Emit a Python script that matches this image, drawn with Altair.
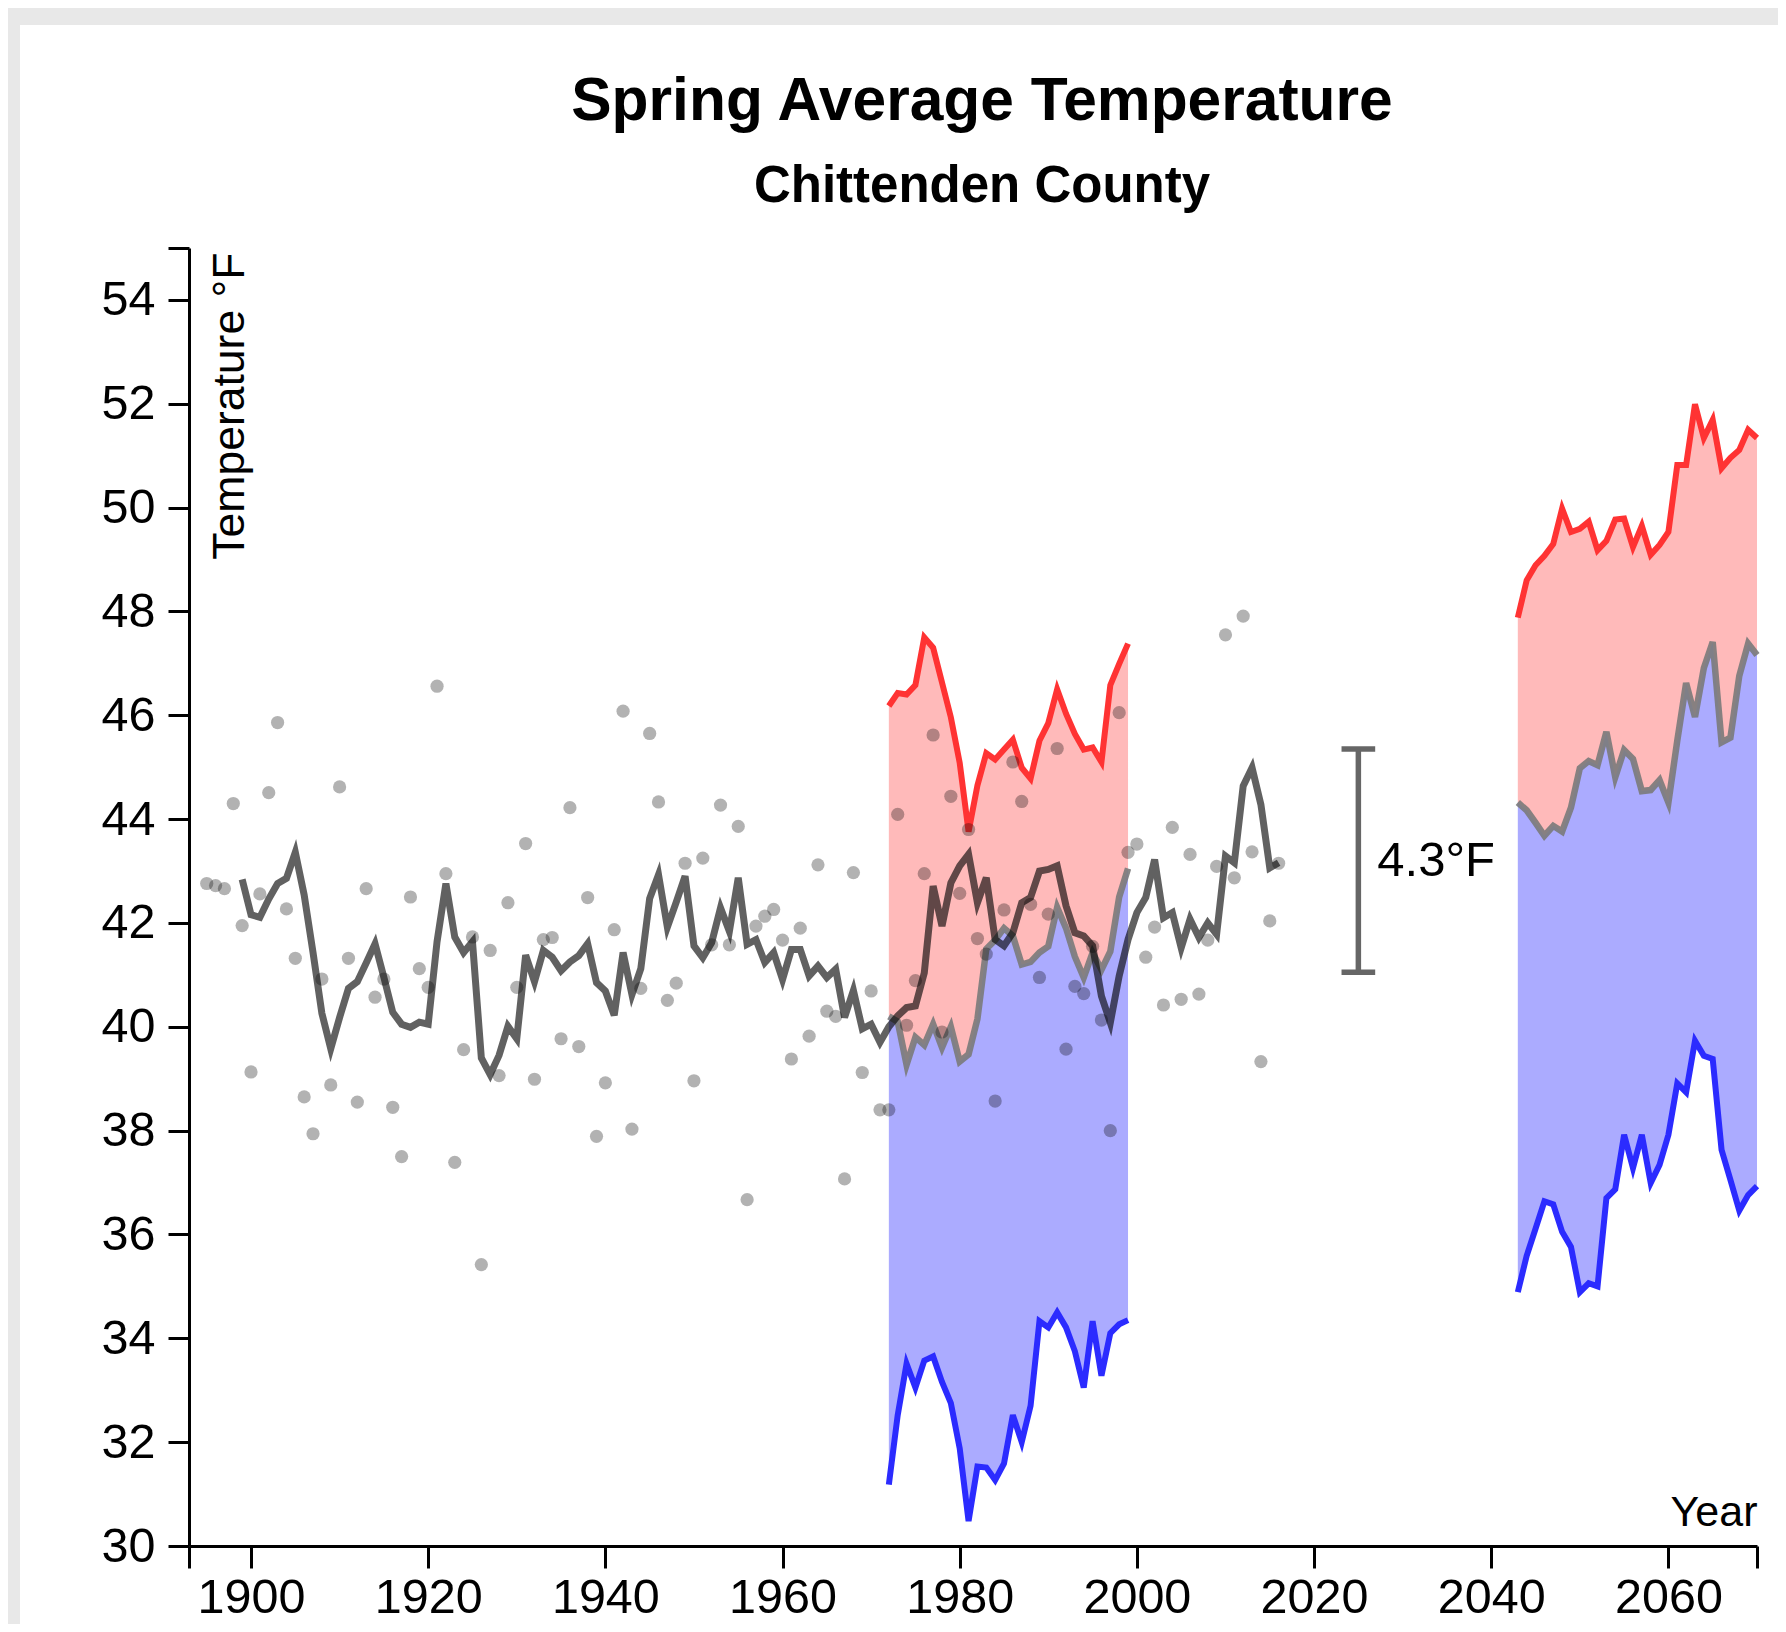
import altair as alt
import pandas as pd

FONT = "Liberation Sans, Arial, Helvetica, sans-serif"

# ---- observed spring average temperature (dots) ----
HIST_YEARS = list(range(1895, 2017))
HIST_TEMPS = [
    42.76, 42.72, 42.66, 44.30, 41.95,                                       # 1895-1899
    39.13, 42.56, 44.51, 45.86, 42.27, 41.32, 38.65, 37.94, 40.92, 38.88,   # 1900s
    44.62, 41.32, 38.55, 42.66, 40.57, 40.92, 38.45, 37.50, 42.50, 41.12,   # 1910s
    40.76, 46.56, 42.95, 37.39, 39.56, 41.73, 35.42, 41.47, 39.06, 42.39,   # 1920s
    40.76, 43.53, 38.99, 41.68, 41.72, 39.77, 44.22, 39.62, 42.49, 37.89,   # 1930s
    38.92, 41.87, 46.08, 38.03, 40.74, 45.65, 44.33, 40.51, 40.84, 43.15,   # 1940s
    38.96, 43.25, 41.58, 44.27, 41.58, 43.86, 36.67, 41.94, 42.13, 42.26,   # 1950s
    41.67, 39.38, 41.90, 39.82, 43.12, 40.30, 40.20, 37.07, 42.97, 39.12,   # 1960s
    40.69, 38.40, 38.40, 44.09, 40.03, 40.89, 42.95, 45.62, 39.90, 44.44,   # 1970s
    42.57, 43.80, 41.70, 41.40, 38.57, 42.25, 45.10, 44.34, 42.36, 40.95,   # 1980s
    42.17, 45.36, 39.57, 40.78, 40.64, 41.55, 40.13, 38.00, 46.05, 43.36,   # 1990s
    43.52, 41.34, 41.92, 40.42, 43.84, 40.53, 43.32, 40.63, 41.67, 43.09,   # 2000s
    47.55, 42.87, 47.91, 43.37, 39.33, 42.04, 43.15,                        # 2010-2016
]

# ---- smoothed line ----
SMOOTH_YEARS = list(range(1899, 2017))
SMOOTH_TEMPS = [
    42.84,                                                                   # 1899
    42.16, 42.11, 42.46, 42.76, 42.86, 43.36, 42.54, 41.43, 40.26, 39.58,   # 1900s
    40.18, 40.74, 40.87, 41.23, 41.60, 40.95, 40.28, 40.05, 39.99, 40.09,   # 1910s
    40.05, 41.64, 42.76, 41.73, 41.43, 41.64, 39.40, 39.08, 39.45, 40.01,   # 1920s
    39.77, 41.38, 40.87, 41.47, 41.34, 41.08, 41.25, 41.37, 41.60, 40.85,   # 1930s
    40.69, 40.22, 41.43, 40.62, 41.12, 42.47, 42.93, 41.92, 42.40, 42.90,   # 1940s
    41.56, 41.33, 41.62, 42.29, 41.84, 42.87, 41.59, 41.68, 41.24, 41.43,   # 1950s
    40.91, 41.49, 41.49, 40.98, 41.17, 40.95, 41.11, 40.18, 40.70, 39.96,   # 1960s
    40.05, 39.70, 40.00, 40.21, 40.37, 40.40, 41.04, 42.71, 41.94, 42.77,   # 1970s
    43.10, 43.32, 42.39, 42.87, 41.68, 41.56, 41.81, 42.39, 42.49, 43.00,   # 1980s
    43.03, 43.10, 42.33, 41.81, 41.75, 41.56, 40.59, 40.08, 40.98, 41.68,   # 1990s
    42.20, 42.49, 43.22, 42.10, 42.20, 41.52, 42.07, 41.72, 42.00, 41.78,   # 2000s
    43.29, 43.16, 44.64, 44.99, 44.28, 43.06, 43.16,                        # 2010-2016
]

# ---- modelled ranges: 1972-1999 and 2043-2070 ----
P1_YEARS = list(range(1972, 2000))
P1_HIGH = [46.18, 46.43, 46.40, 46.58, 47.50, 47.30, 46.63, 45.96, 45.08, 43.76,
           44.65, 45.27, 45.15, 45.34, 45.53, 44.99, 44.78, 45.51, 45.85, 46.50,
           46.03, 45.64, 45.34, 45.38, 45.10, 46.58, 46.99, 47.38]
P1_MED = [40.20, 40.10, 39.27, 39.80, 39.65, 40.05, 39.60, 40.00, 39.33, 39.47,
          40.15, 41.50, 41.67, 41.90, 41.75, 41.20, 41.25, 41.43, 41.55, 42.30,
          41.90, 41.35, 40.95, 41.43, 41.10, 41.45, 42.50, 43.05]
P1_LOW = [31.18, 32.52, 33.51, 33.05, 33.57, 33.65, 33.16, 32.75, 31.88, 30.48,
          31.53, 31.51, 31.27, 31.59, 32.52, 32.00, 32.70, 34.33, 34.21, 34.50,
          34.21, 33.75, 33.05, 34.33, 33.28, 34.10, 34.27, 34.35]

P2_YEARS = list(range(2043, 2071))
P2_HIGH = [47.88, 48.60, 48.89, 49.07, 49.30, 49.98, 49.53, 49.59, 49.73, 49.18,
           49.36, 49.77, 49.79, 49.24, 49.65, 49.09, 49.28, 49.53, 50.82, 50.82,
           51.99, 51.34, 51.69, 50.76, 50.96, 51.11, 51.50, 51.34]
P2_MED = [44.32, 44.17, 43.93, 43.68, 43.87, 43.76, 44.22, 44.98, 45.12, 45.04,
          45.68, 44.81, 45.33, 45.16, 44.54, 44.56, 44.75, 44.32, 45.51, 46.62,
          45.97, 46.91, 47.41, 45.48, 45.57, 46.76, 47.38, 47.16]
P2_LOW = [34.89, 35.59, 36.11, 36.64, 36.58, 36.05, 35.76, 34.89, 35.06, 35.00,
          36.70, 36.87, 37.92, 37.28, 37.92, 36.99, 37.34, 37.92, 38.91, 38.74,
          39.73, 39.44, 39.38, 37.63, 37.05, 36.46, 36.76, 36.93]

# ---- annotation ----
ANNOT_YEAR = [2025]
ANNOT_LOW = [41.05]
ANNOT_HIGH = [45.35]
ANNOT_LABEL = ["4.3°F"]

X_TICKS = [1893, 1900, 1920, 1940, 1960, 1980, 2000, 2020, 2040, 2060, 2070]
Y_TICKS = [30, 32, 34, 36, 38, 40, 42, 44, 46, 48, 50, 52, 54, 55]

W, H = 1568, 1298
PAD = {"left": 181, "top": 240, "right": 21, "bottom": 78}

hist = pd.DataFrame({"year": HIST_YEARS, "temp": HIST_TEMPS})
smooth = pd.DataFrame({"year": SMOOTH_YEARS, "temp": SMOOTH_TEMPS})
proj = pd.DataFrame({
    "year": P1_YEARS + P2_YEARS,
    "low": P1_LOW + P2_LOW,
    "med": P1_MED + P2_MED,
    "high": P1_HIGH + P2_HIGH,
    "period": ["1972-1999"] * len(P1_YEARS) + ["2043-2070"] * len(P2_YEARS),
})
annot = pd.DataFrame({"year": ANNOT_YEAR, "low": ANNOT_LOW, "high": ANNOT_HIGH, "label": ANNOT_LABEL})
one = pd.DataFrame({"a": [0]})

xscale = alt.Scale(domain=[1893, 2070], nice=False, zero=False)
yscale = alt.Scale(domain=[30, 55], nice=False, zero=False)

xaxis = alt.Axis(
    values=X_TICKS, format="d",
    labelExpr="datum.value % 20 == 0 ? datum.label : ''",
    tickSize=22, tickWidth=3, tickColor="black",
    domainColor="black", domainWidth=3,
    labelFontSize=48.5, labelFont=FONT, labelColor="black", labelPadding=6,
    labelFlush=False, labelOverlap=False, grid=False,
    title="Year", titleFont=FONT, titleFontSize=43, titleFontWeight="normal",
    titleColor="black", titleX=W, titleY=-21, titleAlign="right",
    titleBaseline="alphabetic", zindex=1,
)
yaxis = alt.Axis(
    values=Y_TICKS,
    labelExpr="datum.value == 55 ? '' : datum.label",
    tickSize=21, tickWidth=3, tickColor="black",
    domainColor="black", domainWidth=3,
    labelFontSize=48.5, labelFont=FONT, labelColor="black", labelPadding=13,
    labelFlush=False, labelOverlap=False, grid=False,
    title="Temperature °F", titleFont=FONT, titleFontSize=44.5, titleFontWeight="normal",
    titleColor="black", titleAngle=270, titleX=19, titleY=4,
    titleAlign="right", titleBaseline="top", zindex=1,
)

X = alt.X("year:Q", scale=xscale, axis=xaxis)


def Y(field):
    return alt.Y(f"{field}:Q", scale=yscale, axis=yaxis)


GRAY_BG = "#e8e8e8"
bg_top = alt.Chart(one).mark_rect(color=GRAY_BG).encode(
    x=alt.value(-PAD["left"]), x2=alt.value(W + PAD["right"]),
    y=alt.value(-PAD["top"]), y2=alt.value(-PAD["top"] + 17))
bg_left = alt.Chart(one).mark_rect(color=GRAY_BG).encode(
    x=alt.value(-PAD["left"]), x2=alt.value(-PAD["left"] + 12),
    y=alt.value(-PAD["top"]), y2=alt.value(H + PAD["bottom"]))

pink = alt.Chart(proj).mark_area(color="red", opacity=0.27).encode(
    x=X, y=Y("med"), y2="high:Q", detail="period:N")
blue = alt.Chart(proj).mark_area(color="blue", opacity=0.33).encode(
    x=X, y=Y("low"), y2="med:Q", detail="period:N")
med_line = alt.Chart(proj).mark_line(color="#7a7a7a", opacity=0.9, strokeWidth=6.5).encode(
    x=X, y=Y("med"), detail="period:N")
high_line = alt.Chart(proj).mark_line(color="#ff3333", strokeWidth=6).encode(
    x=X, y=Y("high"), detail="period:N")
low_line = alt.Chart(proj).mark_line(color="#2b2bff", strokeWidth=6).encode(
    x=X, y=Y("low"), detail="period:N")

dots = alt.Chart(hist).mark_circle(color="black", opacity=0.3, size=175).encode(
    x=X, y=Y("temp"))
smooth_line = alt.Chart(smooth).mark_line(color="black", opacity=0.62, strokeWidth=7).encode(
    x=X, y=Y("temp"))

ERR_COLOR = "#666666"
err_base = alt.Chart(annot).transform_calculate(
    xa="datum.year - 1.9", xb="datum.year + 1.9", mid="(datum.low + datum.high) / 2")
err_rule = err_base.mark_rule(color=ERR_COLOR, strokeWidth=5.5).encode(
    x=X, y=Y("low"), y2="high:Q")
cap_low = err_base.mark_rule(color=ERR_COLOR, strokeWidth=5.5).encode(
    x=alt.X("xa:Q", scale=xscale, axis=xaxis), x2="xb:Q", y=Y("low"))
cap_high = err_base.mark_rule(color=ERR_COLOR, strokeWidth=5.5).encode(
    x=alt.X("xa:Q", scale=xscale, axis=xaxis), x2="xb:Q", y=Y("high"))
err_label = err_base.mark_text(
    align="left", baseline="middle", dx=19, fontSize=49, font=FONT, color="black"
).encode(x=X, y=Y("mid"), text="label:N")

title = alt.TitleParams(
    text="Spring Average Temperature",
    subtitle="Chittenden County",
    font=FONT, subtitleFont=FONT,
    fontSize=60.5, subtitleFontSize=51,
    fontWeight="bold", subtitleFontWeight="bold",
    color="black", subtitleColor="black",
    anchor="middle", frame="group", dx=9,
    offset=-204, subtitlePadding=30,
)

chart = alt.layer(
    bg_top, bg_left, pink, blue, med_line, high_line, low_line,
    dots, smooth_line, err_rule, cap_low, cap_high, err_label,
).properties(
    width=W, height=H, title=title, padding=PAD,
    autosize=alt.AutoSizeParams(type="none"),
).configure_view(stroke=None)

chart.save("out.html", embed_options={"renderer": "svg", "actions": False})
